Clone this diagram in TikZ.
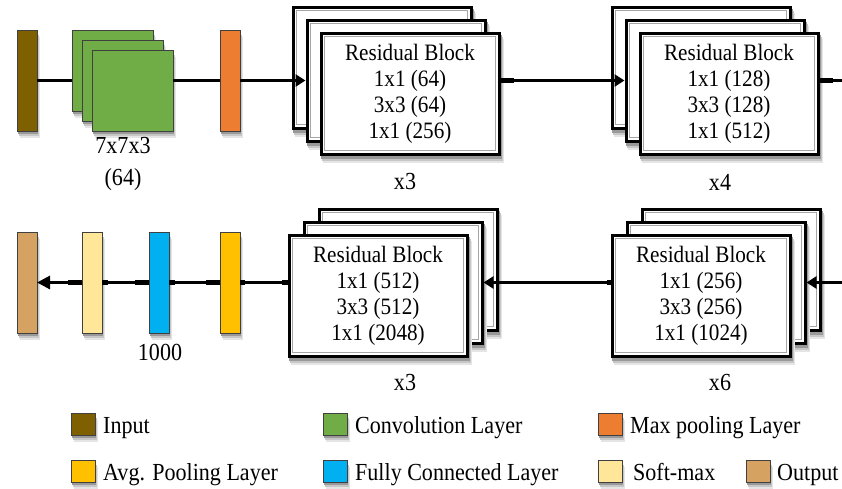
\documentclass[tikz,border=0pt]{standalone}
\usepackage{fontspec}
\setmainfont{Liberation Serif}[FakeStretch=0.9]
\usetikzlibrary{arrows.meta,calc}
\definecolor{cin}{HTML}{7F6000}
\definecolor{cconv}{HTML}{70AD47}
\definecolor{cmax}{HTML}{ED7D31}
\definecolor{cavg}{HTML}{FFC000}
\definecolor{cfc}{HTML}{00B0F0}
\definecolor{csoft}{HTML}{FFE699}
\definecolor{cout}{HTML}{D5A262}
\definecolor{shA}{gray}{0.90}
\definecolor{shB}{gray}{0.78}
\definecolor{shC}{gray}{0.60}
% soft shadow: x, y (top-left), width, height
\newcommand{\mysh}[4]{%
  \path[fill=shA] (#1+3,#2+7) rectangle ++(#3,#4);
  \path[fill=shB] (#1+2,#2+5) rectangle ++(#3,#4);
  \path[fill=shC] (#1+1.2,#2+3) rectangle ++(#3,#4);}
\tikzset{
 bar/.style={rectangle, draw=black!75, line width=0.8pt, minimum width=20pt, minimum height=101pt, inner sep=0pt, outer sep=0pt, anchor=north west},
 sq/.style={rectangle, draw=black!75, fill=cconv, line width=0.8pt, minimum size=81pt, inner sep=0pt, outer sep=0pt, anchor=north west},
 rb/.style={rectangle, draw=black, line width=3pt, fill=white, minimum width=178pt, minimum height=121pt, inner sep=0pt, outer sep=0pt, anchor=north west, align=center, font=\fontsize{23.5}{26}\selectfont,
   path picture={\draw[gray!70, line width=1.3pt] ([shift={(3.6pt,3.6pt)}]path picture bounding box.south west) rectangle ([shift={(-3.6pt,-3.6pt)}]path picture bounding box.north east);}},
 conn/.style={line width=3pt},
 stub/.style={line width=5pt},
 arr/.style={conn, shorten >=1.5pt, -{Triangle[length=10pt,width=12pt]}},
 arrb/.style={conn, -{Triangle[length=13pt,width=13pt]}},
 lbl/.style={font=\fontsize{24.5}{32}\selectfont, inner sep=0pt, align=center},
 key/.style={rectangle, draw=black!75, line width=0.8pt, minimum width=24pt, minimum height=22pt, inner sep=0pt, outer sep=0pt, anchor=north west},
 keytxt/.style={font=\fontsize{24.5}{26}\selectfont, inner sep=0pt, anchor=base west},
}
\begin{document}
\begin{tikzpicture}[x=1pt,y=-1pt]
\useasboundingbox (0,0) rectangle (842,488);
% back boxes
\mysh{291.5}{5.5}{181}{124}\node[rb] (b1a) at (293,7) {};
\mysh{610.5}{5.5}{181}{124}\node[rb] (b2a) at (612,7) {};
\mysh{640.5}{207.5}{181}{124}\node[rb] (b3a) at (642,209) {};
\mysh{317.5}{207.5}{181}{124}\node[rb] (b4a) at (319,209) {};
% top row
\mysh{17}{30}{20}{101}\node[bar, fill=cin] (inp) at (17,30) {};
\mysh{72}{30}{81}{81}\node[sq] (cv1) at (72,30) {};
\mysh{82}{40}{81}{81}\node[sq] (cv2) at (82,40) {};
\mysh{92}{50}{81}{81}\node[sq] (cv3) at (92,50) {};
\mysh{220}{30}{20}{101}\node[bar, fill=cmax] (mp) at (220,30) {};
\mysh{305.5}{18.5}{181}{124}\node[rb] (b1b) at (307,20) {};
\mysh{319.5}{31.5}{181}{124}\node[rb] (b1c) at (321,33) {Residual Block\\1x1 (64)\\3x3 (64)\\1x1 (256)};
\mysh{624.5}{18.5}{181}{124}\node[rb] (b2b) at (626,20) {};
\mysh{638.5}{31.5}{181}{124}\node[rb] (b2c) at (640,33) {Residual Block\\1x1 (128)\\3x3 (128)\\1x1 (512)};
\coordinate (outR) at (842,80.5);
% bottom row
\mysh{220}{232}{20}{101}\node[bar, fill=cavg] (avg) at (220,232) {};
\mysh{149}{232}{20}{101}\node[bar, fill=cfc] (fc) at (149,232) {};
\mysh{82}{232}{20}{101}\node[bar, fill=csoft] (sm) at (82,232) {};
\mysh{17}{232}{20}{101}\node[bar, fill=cout] (out) at (17,232) {};
\mysh{625.5}{220.5}{181}{124}\node[rb] (b3b) at (627,222) {};
\mysh{610.5}{233.5}{181}{124}\node[rb] (b3c) at (612,235) {Residual Block\\1x1 (256)\\3x3 (256)\\1x1 (1024)};
\mysh{302.5}{220.5}{181}{124}\node[rb] (b4b) at (304,222) {};
\mysh{287.5}{233.5}{181}{124}\node[rb] (b4c) at (289,235) {Residual Block\\1x1 (512)\\3x3 (512)\\1x1 (2048)};
\coordinate (inR) at (842,282.5);
% labels
\node[lbl] (lconv) at (123,164) {7x7x3\\(64)};
\node[lbl] (l1) at (405,182) {x3};
\node[lbl] (l2) at (720,182) {x4};
\node[lbl] (l3) at (405,382) {x3};
\node[lbl] (l4) at (720,382) {x6};
\node[lbl] (lfc) at (160,352) {1000};
% connectors (top row, left to right)
\draw[conn] (inp.east) -- (cv1.west |- inp.east);
\draw[conn] (cv3.east |- mp.west) -- (mp.west);
\draw[arr] (mp.east) -- (b1b.west);
\draw[arr] (b1c.east |- b1b.east) -- (b2b.west);
\draw[stub] (b1c.east |- b1b.east) -- ++(15,0);
\draw[conn] (b2c.east |- b2b.east) -- (outR);
\draw[stub] (b2c.east |- b2b.east) -- ++(15,0);
% connectors (bottom row, right to left)
\draw[arr] (inR) -- (b3b.east);
\draw[arr] (b3c.west |- b3b.west) -- (b4b.east);
\draw[stub] (b3c.west |- b3b.west) -- ++(-5,0);
\draw[conn] (b4c.west |- b4b.west) -- (avg.east);
\draw[stub] (b4c.west |- b4b.west) -- ++(-7,0);
\draw[stub] (avg.east) -- ++(5,0);
\draw[conn] (avg.west) -- (fc.east);
\draw[stub] (avg.west) -- ++(-14,0);
\draw[stub] (fc.east) -- ++(6,0);
\draw[conn] (fc.west) -- (sm.east);
\draw[stub] (fc.west) -- ++(-14,0);
\draw[stub] (sm.east) -- ++(6,0);
\draw[arrb] (sm.west) -- (out.east);
\draw[stub] (sm.west) -- ++(-14,0);
% legend
\mysh{71}{413}{24}{22}\node[key, fill=cin] (k1) at (71,413) {};
\node[keytxt] (t1) at (103,433) {Input};
\mysh{323}{413}{24}{22}\node[key, fill=cconv] (k2) at (323,413) {};
\node[keytxt] (t2) at (355,433) {Convolution Layer};
\mysh{598}{413}{24}{22}\node[key, fill=cmax] (k3) at (598,413) {};
\node[keytxt] (t3) at (630,433) {Max pooling Layer};
\mysh{71}{460}{24}{22}\node[key, fill=cavg] (k4) at (71,460) {};
\node[keytxt] (t4) at (103,480) {Avg. Pooling Layer};
\mysh{323}{460}{24}{22}\node[key, fill=cfc] (k5) at (323,460) {};
\node[keytxt] (t5) at (355,480) {Fully Connected Layer};
\mysh{598}{460}{24}{22}\node[key, fill=csoft] (k6) at (598,460) {};
\node[keytxt] (t6) at (633,480) {Soft-max};
\mysh{746}{460}{24}{22}\node[key, fill=cout] (k7) at (746,460) {};
\node[keytxt] (t7) at (777,480) {Output};
\end{tikzpicture}
\end{document}
